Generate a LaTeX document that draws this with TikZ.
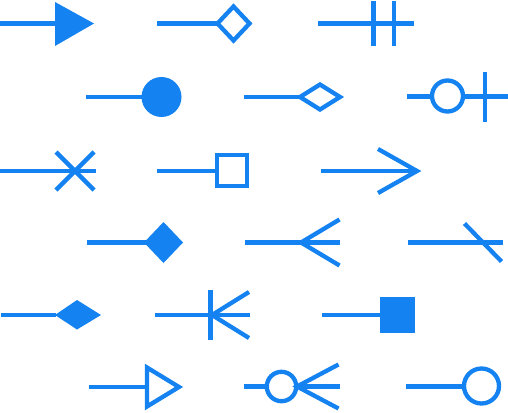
\documentclass[tikz,border=0pt]{standalone}
\usepackage{xcolor}
\usepackage{tikz}
\definecolor{tipblue}{RGB}{20,130,240}

\begin{document}
\begin{tikzpicture}[
  x=1pt, y=-1pt,
  stem/.style={draw=tipblue, line width=4.3pt},
  blob/.style={fill=tipblue},
  hollow/.style={draw=tipblue, line width=4.3pt, fill=white}
]
\useasboundingbox (0,0) rectangle (508,412);
% row 1
\draw[stem] (0,23.5) -- (56,23.5);
\fill[blob] (55,2) -- (94,23.5) -- (55,46) -- cycle;
\draw[stem] (157,23.5) -- (217,23.5);
\draw[hollow] (217.5,23.5) -- (233.5,6.5) -- (249.5,23.5) -- (233.5,40.5) -- cycle;
\draw[stem] (318,23.5) -- (414,23.5);
\draw[stem] (373.5,1) -- (373.5,46);
\draw[stem] (394,1) -- (394,46);
% row 2
\draw[stem] (86,97) -- (145,97);
\fill[blob] (161.5,97) circle (20);
\draw[stem] (244,97) -- (300,97);
\draw[hollow] (300,97) -- (320,84.5) -- (340,97) -- (320,109.5) -- cycle;
\draw[stem] (407,96.5) -- (508,96.5);
\draw[hollow] (447.5,96) circle (15.5);
\draw[stem] (485,71.5) -- (485,121.5);
% row 3
\draw[stem] (0,171) -- (96,171);
\draw[stem] (56,152) -- (94,190);
\draw[stem] (56,190) -- (94,152);
\draw[stem] (157,171) -- (217,171);
\draw[hollow] (217,155) rectangle (247.3,186.3);
\draw[stem] (321,171) -- (418,171);
\draw[stem] (378,149) -- (417,171) -- (378,193);
% row 4
\draw[stem] (87,242.5) -- (146,242.5);
\fill[blob] (144,242.5) -- (163.5,222) -- (183,242.5) -- (163.5,263) -- cycle;
\draw[stem] (245,242.5) -- (340,242.5);
\draw[stem] (339.5,219.5) -- (301,242.5) -- (339.5,265.5);
\draw[stem] (408,242.5) -- (503,242.5);
\draw[stem] (464.5,223.5) -- (501.5,261.5);
% row 5
\draw[stem] (1,315) -- (56,315);
\fill[blob] (55,315) -- (77,300) -- (101,315) -- (77,329.5) -- cycle;
\draw[stem] (155,315) -- (250,315);
\draw[stem] (210.5,289.5) -- (210.5,339.5);
\draw[stem] (249,292) -- (212,315) -- (249,338);
\draw[stem] (322,315) -- (381,315);
\fill[blob] (380,297) rectangle (415,332.5);
% row 6
\draw[stem] (89,387) -- (147,387);
\draw[hollow] (147,367.5) -- (179,387) -- (147,406.5) -- cycle;
\draw[stem] (244,386.5) -- (340,386.5);
\draw[hollow] (281.5,386.5) circle (14.7);
\draw[stem] (338.5,364.5) -- (297,386.5) -- (338.5,408.5);
\draw[stem] (406,386.5) -- (464,386.5);
\draw[hollow] (481.5,386) circle (17.5);
\end{tikzpicture}
\end{document}
